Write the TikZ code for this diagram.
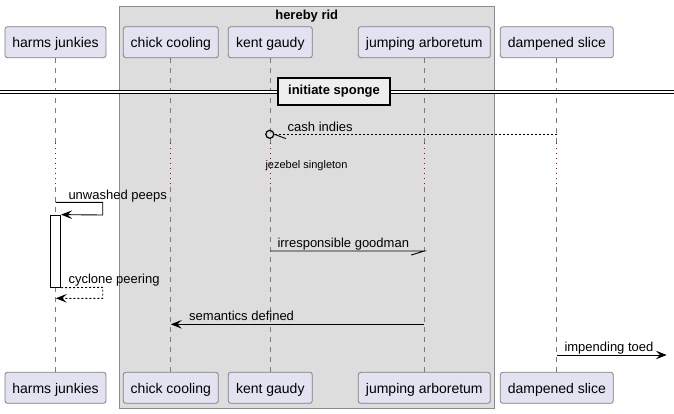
\documentclass[tikz,border=0pt]{standalone}
\usepackage{fontspec}
\setmainfont{Liberation Sans}
\usetikzlibrary{arrows.meta}
\definecolor{partfill}{HTML}{E2E2F0}
\definecolor{partline}{HTML}{808080}
\definecolor{boxfill}{HTML}{DDDDDD}
\definecolor{boxline}{HTML}{8A8A8A}
\definecolor{delayred}{HTML}{A80036}
\definecolor{lifegray}{HTML}{7A7A7A}
\definecolor{divfill}{HTML}{EEEEEE}
\begin{document}
\begin{tikzpicture}[x=1pt,y=-1pt,
  participant/.style={draw=partline, fill=partfill, rounded corners=2.5pt, line width=0.8pt,
    minimum height=31pt, inner sep=0pt, text height=12.5pt, text depth=1.5pt,
    font=\fontsize{14}{16}\selectfont},
  lifeline/.style={draw=lifegray, line width=0.8pt, dash pattern=on 5pt off 5pt},
  delayline/.style={draw=delayred, line width=0.9pt, dash pattern=on 1pt off 4pt},
  msg/.style={draw=black, line width=0.9pt},
  dmsg/.style={draw=black, line width=0.9pt, dash pattern=on 2pt off 2pt},
  tip/.style={-{Stealth[length=11pt,width=8.6pt,inset=4.5pt]}},
  msglabel/.style={anchor=base west, inner sep=0pt, font=\fontsize{13}{15}\selectfont},
  smalllabel/.style={anchor=base west, inner sep=0pt, font=\fontsize{11}{13}\selectfont},
  titlelabel/.style={anchor=base, inner sep=0pt, font=\bfseries\fontsize{13}{15}\selectfont},
  divbox/.style={draw=black, fill=divfill, line width=1.8pt, minimum width=112pt, minimum height=27pt,
    inner sep=0pt, font=\bfseries\fontsize{13}{15}\selectfont},
  actbox/.style={draw=black, fill=white, line width=0.8pt, minimum width=10.4pt, minimum height=72.3pt, inner sep=0pt}
]
\useasboundingbox (0,0) rectangle (674,413);
% group box
\node[draw=boxline, fill=boxfill, line width=0.8pt, minimum width=375.5pt, minimum height=402pt, inner sep=0pt] (grp) at (306.75,207) {};
\node[titlelabel] (grptitle) at (306.75,19) {hereby rid};

% participants
\node[participant, minimum width=101pt] (At) at (55.5,42.2) {harms junkies};
\node[participant, minimum width=95pt]  (Bt) at (170.8,42.2) {chick cooling};
\node[participant, minimum width=84pt]  (Ct) at (270.3,42.2) {kent gaudy};
\node[participant, minimum width=132pt] (Dt) at (424.3,42.2) {jumping arboretum};
\node[participant, minimum width=113pt] (Et) at (556.8,42.2) {dampened slice};
\node[participant, minimum width=101pt] (Ab) at (55.5,387.8) {harms junkies};
\node[participant, minimum width=95pt]  (Bb) at (170.8,387.8) {chick cooling};
\node[participant, minimum width=84pt]  (Cb) at (270.3,387.8) {kent gaudy};
\node[participant, minimum width=132pt] (Db) at (424.3,387.8) {jumping arboretum};
\node[participant, minimum width=113pt] (Eb) at (556.8,387.8) {dampened slice};

% lifelines with delay
\foreach \p/\x in {A/55.5,B/170.8,C/270.3,D/424.3,E/556.8}{
  \coordinate (\p d1) at (\x,143);
  \coordinate (\p d2) at (\x,187);
  \draw[lifeline] (\p t.south) -- (\p d1);
  \draw[delayline] (\p d1) -- (\p d2);
  \draw[lifeline] (\p d2) -- (\p b.north);
}

% divider
\coordinate (divL) at (0,92);
\coordinate (divR) at (674,92);
\draw[line width=0.9pt, double=white, double distance=1.7pt] (divL) -- (divR);
\node[divbox] (div) at (334,91.5) {initiate sponge};

% cash indies
\coordinate (E1) at (556.8,134.3);
\node[circle, draw=black, line width=1.2pt, minimum size=8pt, inner sep=0pt] (C1) at (269.8,134.3) {};
\draw[dmsg] (E1) -- (C1.east);
\draw[msg] (C1.east) -- ++(11.5,4.3);
\node[msglabel] (l1) at (287.5,131) {cash indies};

% delay text
\node[smalllabel] (delaytext) at (265.3,168.5) {jezebel singleton};

% activation
\node[actbox] (Act) at (55.5,251.15) {};

% unwashed peeps
\coordinate (A2) at (55.5,202.3);
\coordinate (S1) at (102.7,202.3);
\coordinate (S2) at (102.7,215);
\draw[msg, tip] (A2) -- (S1) -- (S2) -- (Act.north east);
\node[msglabel] (l2) at (68.3,199) {unwashed peeps};

% irresponsible goodman
\coordinate (C3) at (270.3,251);
\coordinate (D3) at (424.3,251);
\draw[msg] (C3) -- (D3) -- ++(-13,4);
\node[msglabel] (l3) at (277.3,247.7) {irresponsible goodman};

% cyclone peering
\coordinate (S3) at (102.7,287.3);
\coordinate (S4) at (102.7,298.3);
\coordinate (A4) at (55.8,298.3);
\draw[dmsg, tip] (Act.south east) -- (S3) -- (S4) -- (A4);
\node[msglabel] (l4) at (68.3,283.4) {cyclone peering};

% semantics defined
\coordinate (D5) at (424.3,324.3);
\coordinate (B5) at (170.8,324.3);
\draw[msg, tip] (D5) -- (B5);
\node[msglabel] (l5) at (189,320.7) {semantics defined};

% impending toed
\coordinate (E6) at (556.8,355);
\coordinate (F6) at (666.7,355);
\draw[msg, tip] (E6) -- (F6);
\node[msglabel] (l6) at (564.3,351.7) {impending toed};
\end{tikzpicture}
\end{document}
